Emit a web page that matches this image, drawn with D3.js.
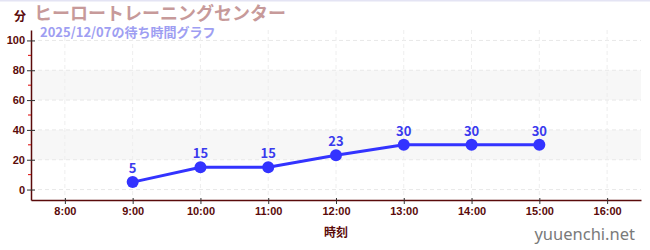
<!DOCTYPE html>
<html>
<head>
<meta charset="utf-8">
<script src="https://cdn.jsdelivr.net/npm/d3@7"></script>
<style>
  body { margin: 0; background: #fff; }
  svg { display: block; font-family: "Noto Sans CJK JP", "Noto Sans", sans-serif; }
</style>
</head>
<body>
<div id="chart"></div>
<script>
// data
var hours = [9, 10, 11, 12, 13, 14, 15];
var waits = [5, 15, 15, 23, 30, 30, 30];
var xTicks = [8, 9, 10, 11, 12, 13, 14, 15, 16];
var yTicks = [0, 20, 40, 60, 80, 100];
var yMinor = [10, 30, 50, 70, 90];
var bands = [[20, 40], [60, 80]];

var W = 650, H = 250;
var margin = {top: 30, right: 9, bottom: 50, left: 31},
    width = W - margin.left - margin.right,
    height = H - margin.top - margin.bottom;

var svg = d3.select("#chart")
  .append("svg")
    .attr("width", W)
    .attr("height", H);

// thin top border
svg.append("rect")
  .attr("x", 0).attr("y", 0)
  .attr("width", W).attr("height", 1.5)
  .attr("fill", "#e4e4f4");

var g = svg.append("g")
    .attr("transform", "translate(" + margin.left + "," + margin.top + ")");

var x = d3.scaleLinear()
  .domain([7.5, 16.5])
  .range([0, width]);

var y = d3.scaleLinear()
  .domain([-7, 107])
  .range([height, 0]);

// shaded bands
g.selectAll("rect.band")
  .data(bands)
  .enter()
  .append("rect")
    .attr("class", "band")
    .attr("x", 0)
    .attr("width", width)
    .attr("y", function(d) { return y(d[1]); })
    .attr("height", function(d) { return y(d[0]) - y(d[1]); })
    .attr("fill", "#f7f7f7");

// grid
g.selectAll("line.hgrid")
  .data(yTicks)
  .enter()
  .append("line")
    .attr("x1", 0).attr("x2", width)
    .attr("y1", function(d) { return y(d); })
    .attr("y2", function(d) { return y(d); })
    .attr("stroke", "#e8e8e8")
    .attr("stroke-dasharray", "4,3");
g.selectAll("line.vgrid")
  .data(xTicks)
  .enter()
  .append("line")
    .attr("x1", function(d) { return x(d); })
    .attr("x2", function(d) { return x(d); })
    .attr("y1", 0).attr("y2", height)
    .attr("stroke", "#eeeeee")
    .attr("stroke-dasharray", "4,3");

// axes
var axisColor = "#5a0a0a";
var xAxis = g.append("g")
  .attr("transform", "translate(0," + height + ")")
  .call(d3.axisBottom(x).tickValues(xTicks).tickSize(4).tickSizeOuter(0)
        .tickFormat(function(d) { return d + ":00"; }));
var yAxis = g.append("g")
  .call(d3.axisLeft(y).tickValues(yTicks).tickSize(4).tickSizeOuter(0));

[xAxis, yAxis].forEach(function(a) {
  a.select(".domain").attr("stroke", axisColor).attr("stroke-width", 1.5);
  a.selectAll(".tick line").attr("stroke", "#333");
  a.selectAll(".tick text")
    .attr("fill", axisColor)
    .style("font-family", "'Liberation Sans', 'DejaVu Sans', sans-serif")
    .style("font-size", "11px")
    .style("font-weight", "bold");
});
xAxis.selectAll(".tick line").attr("y1", -2).attr("y2", 4);
yAxis.selectAll(".tick line").attr("x1", 4).attr("x2", -4);
yAxis.selectAll(".tick text").attr("x", -6);
xAxis.selectAll(".tick text").attr("y", 7);

// minor ticks on y axis
g.selectAll("line.minor")
  .data(yMinor)
  .enter()
  .append("line")
    .attr("x1", -3).attr("x2", 0)
    .attr("y1", function(d) { return y(d); })
    .attr("y2", function(d) { return y(d); })
    .attr("stroke", "#dd0000");

// line + points
var line = d3.line()
  .x(function(d, i) { return x(hours[i]); })
  .y(function(d) { return y(d); });

g.append("path")
  .datum(waits)
  .attr("d", line)
  .attr("fill", "none")
  .attr("stroke", "#3333ff")
  .attr("stroke-width", 3);

g.selectAll("circle.pt")
  .data(waits)
  .enter()
  .append("circle")
    .attr("cx", function(d, i) { return x(hours[i]); })
    .attr("cy", function(d) { return y(d); })
    .attr("r", 6)
    .attr("fill", "#3333ff");

g.selectAll("text.lbl")
  .data(waits)
  .enter()
  .append("text")
    .attr("x", function(d, i) { return x(hours[i]); })
    .attr("y", function(d) { return y(d) - 9; })
    .attr("text-anchor", "middle")
    .attr("fill", "#3a3aee")
    .style("font-size", "13px")
    .style("font-weight", "bold")
    .text(function(d) { return d; });

// titles
svg.append("text")
  .attr("x", 14).attr("y", 21)
  .attr("fill", axisColor)
  .style("font-size", "12px")
  .style("font-weight", "bold")
  .text("分");

svg.append("text")
  .attr("x", 34).attr("y", 20)
  .attr("fill", "#c79a9a")
  .style("font-size", "18px")
  .style("font-weight", "bold")
  .text("ヒーロートレーニングセンター");

svg.append("text")
  .attr("x", 40).attr("y", 37)
  .attr("fill", "#9e9ef2")
  .style("font-size", "13px")
  .style("font-weight", "bold")
  .text("2025/12/07の待ち時間グラフ");

svg.append("text")
  .attr("x", margin.left + width / 2).attr("y", 237)
  .attr("text-anchor", "middle")
  .attr("fill", axisColor)
  .style("font-size", "12px")
  .style("font-weight", "bold")
  .text("時刻");

svg.append("text")
  .attr("x", 635).attr("y", 240)
  .attr("text-anchor", "end")
  .attr("fill", "#7a7a7a")
  .style("font-size", "16.5px")
  .style("font-family", "'Noto Sans', sans-serif")
  .text("yuuenchi.net");
</script>
</body>
</html>
